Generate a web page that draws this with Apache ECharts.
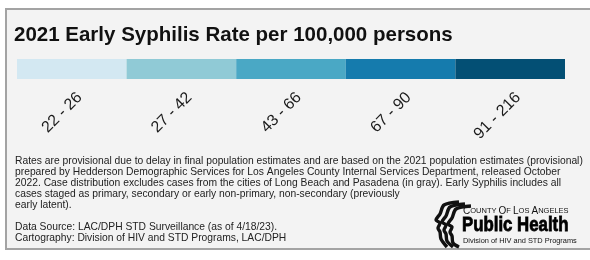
<!DOCTYPE html>
<html lang="en">
<head>
    <meta charset="UTF-8">
    <title>early-syphilis-legend</title>
    <script src="https://cdn.jsdelivr.net/npm/echarts@6/dist/echarts.min.js"></script>
    <style>
        html, body, #main {
            padding: 0px;
            margin: 0px;
            width: 590px;
            height: 260px;
            background: #fff;
        }
    </style>
</head>
<body>
    <div id="main"></div>
    <script type="text/javascript">
        // 图例分档
        var rateBins = ['22 - 26', '27 - 42', '43 - 66', '67 - 90', '91 - 216'];
        var binValues = [1, 1, 1, 1, 1];
        var binColors = ['#d3e8f2', '#90cad6', '#4aa8c5', '#157bad', '#034f74'];

        var noteLines = [
            'Rates are provisional due to delay in final population estimates and are based on the 2021 population estimates (provisional)',
            'prepared by Hedderson Demographic Services for Los Angeles County Internal Services Department, released October',
            '2022. Case distribution excludes cases from the cities of Long Beach and Pasadena (in gray). Early Syphilis includes all',
            'cases staged as primary, secondary or early non-primary, non-secondary (previously',
            'early latent).',
            '',
            'Data Source: LAC/DPH STD Surveillance (as of 4/18/23).',
            'Cartography: Division of HIV and STD Programs, LAC/DPH'
        ];

        var chart = echarts.init(document.getElementById('main'));

        // 侧脸剪影（logo）
        var faces = [0, 6, 12].map(function (d, i) {
            var x = 435 + d, y = 202 + i * 2;
            return {
                type: 'polyline',
                shape: {
                    smooth: 0.3,
                    points: [
                        [x + 24, y], [x + 9, y + 3], [x + 5, y + 12], [x + 1, y + 18],
                        [x + 5, y + 21], [x + 3, y + 26], [x + 5, y + 30],
                        [x + 6, y + 37], [x + 12, y + 45 - i * 2]
                    ]
                },
                style: { fill: null, stroke: '#111', lineWidth: 3.4 }
            };
        });

        var option = {
            animation: false,
            backgroundColor: '#fff',
            title: {
                text: '2021 Early Syphilis Rate per 100,000 persons',
                left: 14,
                top: 25,
                padding: 0,
                textStyle: {
                    fontFamily: 'Liberation Sans',
                    fontSize: 20.5,
                    fontWeight: 'bold',
                    color: '#111'
                }
            },
            grid: [
                { left: 17, top: 59, width: 548, height: 20 },
                { left: 25, top: 59, width: 548, height: 20 }
            ],
            xAxis: [{
                type: 'category',
                gridIndex: 0,
                data: rateBins,
                axisLine: { show: false },
                axisTick: { show: false },
                axisLabel: { show: false }
            }, {
                type: 'category',
                gridIndex: 1,
                data: rateBins,
                axisLine: { show: false },
                axisTick: { show: false },
                axisLabel: {
                    interval: 0,
                    rotate: 45,
                    margin: 16,
                    fontFamily: 'Liberation Sans',
                    fontSize: 16,
                    color: '#1a1a1a'
                }
            }],
            yAxis: [
                { type: 'value', gridIndex: 0, min: 0, max: 1, show: false },
                { type: 'value', gridIndex: 1, min: 0, max: 1, show: false }
            ],
            series: [{
                type: 'bar',
                xAxisIndex: 0,
                yAxisIndex: 0,
                barWidth: '100%',
                silent: true,
                data: binValues.map(function (v, i) {
                    return { value: v, itemStyle: { color: binColors[i] } };
                })
            }],
            graphic: [{
                type: 'rect',
                z: -10,
                shape: { x: 6, y: 9, width: 600, height: 240 },
                style: { fill: '#f3f3f3', stroke: '#a3a3a3', lineWidth: 2 }
            }, {
                type: 'text',
                x: 15,
                y: 156,
                style: {
                    text: noteLines.join('\n'),
                    fontFamily: 'Liberation Sans',
                    fontSize: 10.3,
                    lineHeight: 11,
                    fill: '#222'
                }
            }, {
                type: 'text',
                x: 463,
                y: 206,
                style: {
                    text: '{b|C}{s|OUNTY }{b|O}{s|F }{b|L}{s|OS }{b|A}{s|NGELES}',
                    fontFamily: 'Liberation Sans',
                    fill: '#111',
                    rich: {
                        b: { fontFamily: 'Liberation Sans', fontSize: 10, fill: '#111' },
                        s: { fontFamily: 'Liberation Sans', fontSize: 7.5, fill: '#111' }
                    }
                }
            }, {
                type: 'text',
                x: 462,
                y: 215,
                scaleX: 0.8,
                style: {
                    text: 'Public Health',
                    fontFamily: 'Liberation Sans',
                    fontWeight: 'bold',
                    fontSize: 21,
                    fill: '#000',
                    stroke: '#000',
                    lineWidth: 0.8
                }
            }, {
                type: 'text',
                x: 463,
                y: 237,
                style: {
                    text: 'Division of HIV and STD Programs',
                    fontFamily: 'Liberation Sans',
                    fontSize: 7.4,
                    fill: '#111'
                }
            }].concat(faces)
        };

        chart.setOption(option);
    </script>
</body>
</html>
